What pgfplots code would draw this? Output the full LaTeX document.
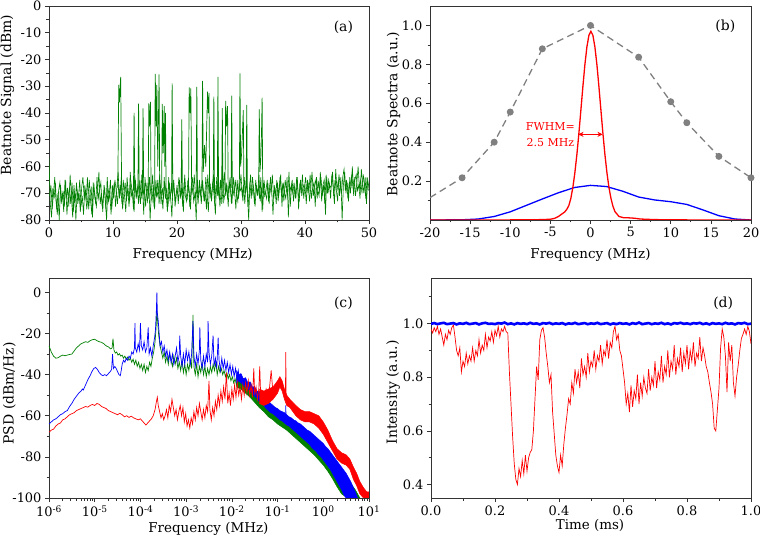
\documentclass[border=0pt]{standalone}
\usepackage{pgfplots}
\pgfplotsset{compat=1.18}
\usepackage{fontspec}
\setmainfont{DejaVu Serif}
\usetikzlibrary{arrows.meta}
\definecolor{trgreen}{RGB}{0,128,0}
\definecolor{trgray}{RGB}{128,128,128}

\pgfplotsset{
  panel/.style={
    scale only axis,
    tick align=outside, tick pos=left,
    axis line style={black!80, line width=0.8bp},
    tick style={black!80, line width=0.7bp},
    major tick length=4bp, minor tick length=2.5bp,
    tick label style={font=\fontsize{13}{15}\selectfont},
    xlabel style={font=\fontsize{13.5}{16}\selectfont},
    ylabel style={font=\fontsize{14}{16}\selectfont},
  },
}

\begin{document}
\begin{tikzpicture}

% ---------- (a) ----------
\begin{axis}[panel,
  at={(49bp,325bp)}, anchor=south west, width=320bp, height=214bp,
  xmin=0, xmax=50, ymin=-80, ymax=0,
  xtick={0,10,20,30,40,50}, xticklabels={0,10,20,30,40,50},
  minor xtick={5,15,25,35,45},
  ytick={-80,-70,...,0}, yticklabels={-80,-70,-60,-50,-40,-30,-20,-10,0},
  minor ytick={-75,-65,...,-5},
  xlabel={Frequency (MHz)}, ylabel={Beatnote Signal (dBm)},
  xlabel style={at={(axis description cs:0.449,-0.164)}, anchor=center},
  ylabel style={at={(axis description cs:-0.13,0.584)}, anchor=center},
]
\addplot[trgreen, line width=0.6bp] coordinates {
(0,-57)(0.2,-74)(0.4,-79)(0.6,-68)(0.8,-72)(1,-66)(1.2,-76)(1.4,-70)(1.6,-80)(1.8,-67)
(2,-73)(2.2,-69)(2.4,-75)(2.6,-65)(2.8,-78)(3,-71)(3.2,-68)(3.4,-74)(3.6,-66)(3.8,-77)
(4,-70)(4.2,-80)(4.4,-69)(4.6,-72)(4.8,-65)(5,-75)(5.2,-71)(5.4,-78)(5.6,-67)(5.8,-73)
(6,-64)(6.2,-76)(6.4,-70)(6.6,-68)(6.8,-79)(7,-66)(7.2,-72)(7.4,-75)(7.6,-69)(7.8,-62)
(8,-74)(8.2,-70)(8.4,-77)(8.6,-67)(8.8,-73)(9,-80)(9.2,-68)(9.4,-71)(9.6,-65)(9.8,-76)
(10,-70)(10.2,-66)(10.4,-75)(10.6,-68)(10.8,-62)(11,-72)(11.2,-67)(11.4,-74)(11.6,-65)(11.8,-71)
(12,-77)(12.2,-64)(12.4,-70)(12.6,-73)(12.8,-66)(13,-69)(13.2,-76)(13.4,-63)(13.6,-71)(13.8,-68)
(14,-74)(14.2,-65)(14.4,-72)(14.6,-67)(14.8,-78)(15,-64)(15.2,-70)(15.4,-73)(15.6,-66)(15.8,-80)
(16,-69)(16.2,-63)(16.4,-75)(16.6,-68)(16.8,-71)(17,-65)(17.2,-74)(17.4,-67)(17.6,-70)(17.8,-76)
(18,-64)(18.2,-72)(18.4,-68)(18.6,-75)(18.8,-66)(19,-71)(19.2,-79)(19.4,-65)(19.6,-70)(19.8,-73)
(20,-67)(20.2,-74)(20.4,-65)(20.6,-71)(20.8,-69)(21,-77)(21.2,-63)(21.4,-70)(21.6,-72)(21.8,-66)
(22,-75)(22.2,-68)(22.4,-64)(22.6,-73)(22.8,-70)(23,-80)(23.2,-66)(23.4,-71)(23.6,-68)(23.8,-74)
(24,-65)(24.2,-72)(24.4,-69)(24.6,-76)(24.8,-63)(25,-70)(25.2,-67)(25.4,-73)(25.6,-66)(25.8,-71)
(26,-78)(26.2,-64)(26.4,-69)(26.6,-72)(26.8,-65)(27,-74)(27.2,-68)(27.4,-62)(27.6,-71)(27.8,-67)
(28,-75)(28.2,-66)(28.4,-70)(28.6,-73)(28.8,-64)(29,-69)(29.2,-76)(29.4,-65)(29.6,-72)(29.8,-68)
(30,-63)(30.2,-71)(30.4,-67)(30.6,-74)(30.8,-65)(31,-70)(31.2,-80)(31.4,-66)(31.6,-72)(31.8,-64)
(32,-69)(32.2,-75)(32.4,-67)(32.6,-71)(32.8,-63)(33,-73)(33.2,-68)(33.4,-76)(33.6,-65)(33.8,-70)
(34,-72)(34.2,-66)(34.4,-74)(34.6,-64)(34.8,-69)(35,-78)(35.2,-67)(35.4,-71)(35.6,-65)(35.8,-73)
(36,-68)(36.2,-63)(36.4,-75)(36.6,-66)(36.8,-70)(37,-72)(37.2,-64)(37.4,-79)(37.6,-67)(37.8,-69)
(38,-65)(38.2,-73)(38.4,-68)(38.6,-71)(38.8,-64)(39,-76)(39.2,-66)(39.4,-70)(39.6,-63)(39.8,-72)
(40,-67)(40.2,-74)(40.4,-65)(40.6,-70)(40.8,-63)(41,-72)(41.2,-68)(41.4,-66)(41.6,-75)(41.8,-64)
(42,-69)(42.2,-71)(42.4,-62)(42.6,-73)(42.8,-67)(43,-65)(43.2,-78)(43.4,-64)(43.6,-70)(43.8,-66)
(44,-72)(44.2,-63)(44.4,-68)(44.6,-74)(44.8,-61)(45,-69)(45.2,-65)(45.4,-71)(45.6,-64)(45.8,-80)
(46,-67)(46.2,-62)(46.4,-70)(46.6,-66)(46.8,-73)(47,-64)(47.2,-68)(47.4,-60)(47.6,-71)(47.8,-65)
(48,-63)(48.2,-69)(48.4,-67)(48.6,-72)(48.8,-61)(49,-66)(49.2,-70)(49.4,-64)(49.6,-74)(49.8,-65)(50,-68)
};
\addplot[trgreen, line width=0.6bp] coordinates {
(0.1,-71)(0.3,-67)(0.5,-76)(0.7,-70)(0.9,-64)(1.1,-73)(1.3,-78)(1.5,-69)(1.7,-66)(1.9,-74)
(2.1,-70)(2.3,-77)(2.5,-65)(2.7,-72)(2.9,-68)(3.1,-75)(3.3,-63)(3.5,-71)(3.7,-79)(3.9,-67)
(4.1,-73)(4.3,-66)(4.5,-74)(4.7,-70)(4.9,-77)(5.1,-68)(5.3,-64)(5.5,-72)(5.7,-69)(5.9,-76)
(6.1,-71)(6.3,-65)(6.5,-73)(6.7,-78)(6.9,-67)(7.1,-70)(7.3,-74)(7.5,-64)(7.7,-72)(7.9,-69)
(8.1,-66)(8.3,-75)(8.5,-71)(8.7,-68)(8.9,-76)(9.1,-64)(9.3,-73)(9.5,-70)(9.7,-78)(9.9,-67)
(10.1,-72)(10.3,-65)(10.5,-69)(10.7,-74)(10.9,-67)(11.1,-71)(11.3,-64)(11.5,-76)(11.7,-70)(11.9,-66)
(12.1,-73)(12.3,-68)(12.5,-75)(12.7,-62)(12.9,-71)(13.1,-69)(13.3,-77)(13.5,-65)(13.7,-72)(13.9,-67)
(14.1,-70)(14.3,-74)(14.5,-63)(14.7,-71)(14.9,-68)(15.1,-75)(15.3,-66)(15.5,-72)(15.7,-64)(15.9,-70)
(16.1,-73)(16.3,-67)(16.5,-76)(16.7,-65)(16.9,-71)(17.1,-69)(17.3,-63)(17.5,-74)(17.7,-68)(17.9,-72)
(18.1,-66)(18.3,-70)(18.5,-77)(18.7,-64)(18.9,-73)(19.1,-68)(19.3,-71)(19.5,-65)(19.7,-75)(19.9,-69)
(20.1,-70)(20.3,-64)(20.5,-72)(20.7,-68)(20.9,-75)(21.1,-66)(21.3,-71)(21.5,-73)(21.7,-65)(21.9,-69)
(22.1,-76)(22.3,-67)(22.5,-70)(22.7,-63)(22.9,-72)(23.1,-68)(23.3,-74)(23.5,-65)(23.7,-71)(23.9,-66)
(24.1,-69)(24.3,-73)(24.5,-64)(24.7,-70)(24.9,-77)(25.1,-66)(25.3,-72)(25.5,-68)(25.7,-63)(25.9,-74)
(26.1,-67)(26.3,-71)(26.5,-65)(26.7,-75)(26.9,-69)(27.1,-62)(27.3,-73)(27.5,-70)(27.7,-66)(27.9,-72)
(28.1,-68)(28.3,-64)(28.5,-74)(28.7,-67)(28.9,-71)(29.1,-65)(29.3,-70)(29.5,-73)(29.7,-66)(29.9,-69)
(30.1,-68)(30.3,-73)(30.5,-64)(30.7,-70)(30.9,-66)(31.1,-75)(31.3,-69)(31.5,-63)(31.7,-71)(31.9,-67)
(32.1,-74)(32.3,-65)(32.5,-70)(32.7,-68)(32.9,-72)(33.1,-64)(33.3,-77)(33.5,-66)(33.7,-71)(33.9,-69)
(34.1,-65)(34.3,-73)(34.5,-67)(34.7,-70)(34.9,-63)(35.1,-72)(35.3,-68)(35.5,-74)(35.7,-66)(35.9,-71)
(36.1,-64)(36.3,-70)(36.5,-67)(36.7,-73)(36.9,-65)(37.1,-69)(37.3,-71)(37.5,-62)(37.7,-75)(37.9,-67)
(38.1,-70)(38.3,-66)(38.5,-72)(38.7,-64)(38.9,-69)(39.1,-73)(39.3,-65)(39.5,-71)(39.7,-67)(39.9,-68)
(40.1,-64)(40.3,-70)(40.5,-66)(40.7,-73)(40.9,-68)(41.1,-62)(41.3,-71)(41.5,-67)(41.7,-65)(41.9,-72)
(42.1,-66)(42.3,-69)(42.5,-64)(42.7,-71)(42.9,-67)(43.1,-74)(43.3,-63)(43.5,-70)(43.7,-65)(43.9,-68)
(44.1,-67)(44.3,-62)(44.5,-71)(44.7,-65)(44.9,-69)(45.1,-73)(45.3,-63)(45.5,-67)(45.7,-70)(45.9,-64)
(46.1,-61)(46.3,-69)(46.5,-65)(46.7,-72)(46.9,-66)(47.1,-70)(47.3,-63)(47.5,-68)(47.7,-64)(47.9,-71)
(48.1,-66)(48.3,-60)(48.5,-68)(48.7,-65)(48.9,-70)(49.1,-63)(49.3,-67)(49.5,-72)(49.7,-64)(49.9,-69)
};
% beatnote spikes
\addplot[trgreen, line width=0.7bp, unbounded coords=jump] coordinates {
(10.75,-68)(10.9,-29.5)(11.0,-36)(11.2,-26.5)(11.35,-69)(11.4,nan)
(13.2,-69)(13.3,-40)(13.4,-70)(13.5,nan)
(13.9,-68)(14.0,-36.5)(14.1,-70)(14.2,nan)
(14.6,-69)(14.7,-38.3)(14.8,-70)(14.9,nan)
(15.5,-68)(15.6,-36.4)(15.7,-45)(15.85,-35.8)(15.95,-70)(16.0,nan)
(16.5,-69)(16.6,-25.4)(16.75,-45)(16.85,-29.5)(17.0,-60)(17.2,-25.6)(17.3,-70)(17.4,nan)
(17.6,-68)(17.7,-36.6)(17.85,-55)(18.0,-37.4)(18.1,-60)(18.2,-40)(18.3,-70)(18.4,nan)
(19.15,-69)(19.24,-28.9)(19.35,-70)(19.4,nan)
(20.65,-68)(20.75,-42.4)(20.85,-70)(20.9,nan)
(21.8,-69)(21.9,-30.4)(22.05,-40)(22.16,-30.8)(22.3,-70)(22.4,nan)
(23.0,-68)(23.1,-30.2)(23.2,-70)(23.3,nan)
(23.9,-69)(24.0,-28)(24.1,-62)(24.3,-52)(24.5,-60)(24.77,-32)(24.88,-40)(25.0,-32.6)(25.1,-70)(25.2,nan)
(25.66,-68)(25.76,-33.9)(25.86,-70)(25.9,nan)
(26.3,-69)(26.4,-26.5)(26.5,-70)(26.6,nan)
(26.98,-68)(27.08,-38.2)(27.18,-70)(27.2,nan)
(27.5,-69)(27.6,-35.5)(27.75,-45)(27.9,-37.4)(28.0,-70)(28.1,nan)
(28.45,-68)(28.55,-33.5)(28.65,-70)(28.7,nan)
(29.74,-69)(29.84,-25.2)(29.94,-60)(30.1,-55)(30.36,-38.9)(30.46,-70)(30.5,nan)
(30.8,-68)(30.9,-37)(31.0,-70)(31.1,nan)
(32.76,-69)(32.86,-38.6)(32.96,-62)(33.1,-57)(33.2,-48)(33.3,-34.3)(33.4,-70)
};
\node[font=\fontsize{14}{16}\selectfont] at (rel axis cs:0.92,0.90) {(a)};
\end{axis}

% ---------- (b) ----------
\begin{axis}[panel,
  at={(430bp,325bp)}, anchor=south west, width=321bp, height=214bp,
  xmin=-20, xmax=20, ymin=0, ymax=1.1,
  xtick={-20,-15,...,20}, xticklabels={-20,-15,-10,-5,0,5,10,15,20},
  minor xtick={-17.5,-12.5,...,17.5},
  ytick={0.2,0.4,0.6,0.8,1.0}, yticklabels={0.2,0.4,0.6,0.8,1.0},
  minor ytick={0.1,0.3,0.5,0.7,0.9},
  xlabel={Frequency (MHz)}, ylabel={Beatnote Spectra (a.u.)},
  xlabel style={at={(axis description cs:0.5,-0.164)}, anchor=center},
  ylabel style={at={(axis description cs:-0.114,0.495)}, anchor=center},
]
\addplot[trgray, line width=1.3bp, dash pattern=on 7bp off 4.5bp,
  mark=*, mark size=2.8bp, mark options={solid, fill=trgray, draw=trgray},
  mark indices={2,3,4,5,6,7,8,9,10,11}] coordinates {
(-20,0.115)(-16,0.217)(-12,0.40)(-10,0.555)(-6,0.88)(0,1.0)(6,0.837)(10,0.608)(12,0.50)(16,0.327)(20,0.217)
};
\addplot[blue, line width=1.3bp] coordinates {
(-20,0)(-16,0.001)(-14,0.005)(-12,0.018)(-10,0.042)(-8,0.075)(-6,0.108)(-4,0.14)(-2,0.167)(0,0.178)
(2,0.172)(4,0.148)(6,0.118)(8,0.103)(10,0.094)(12,0.08)(14,0.052)(16,0.022)(18,0.005)(20,0)
};
\addplot[red, line width=1.3bp] coordinates {
(-20,0)(-12,0)(-8,0.001)(-6,0.002)(-5,0.004)(-4.5,0.008)(-4,0.018)(-3.7,0.027)(-3.45,0.034)(-3.2,0.042)
(-2.95,0.055)(-2.7,0.074)(-2.45,0.111)(-2.2,0.167)(-1.95,0.242)(-1.7,0.335)(-1.45,0.444)(-1.2,0.564)
(-0.95,0.685)(-0.7,0.798)(-0.45,0.889)(-0.2,0.949)(0.05,0.970)(0.3,0.949)(0.55,0.889)(0.8,0.798)
(1.05,0.685)(1.3,0.564)(1.55,0.444)(1.8,0.335)(2.05,0.242)(2.3,0.167)(2.55,0.111)(2.8,0.070)
(3.05,0.043)(3.55,0.018)(4.1,0.012)(4.8,0.011)(5.5,0.009)(6.2,0.005)(8,0.002)(10,0.001)(14,0)(20,0)
};
\draw[red, line width=1.3bp, {Stealth[length=5bp,width=5bp]}-{Stealth[length=5bp,width=5bp]}]
  (axis cs:-1.5,0.44) -- (axis cs:1.5,0.44);
\node[red, align=center, font=\fontsize{11}{16}\selectfont] at (axis cs:-5.0,0.44) {FWHM=\\2.5 MHz};
\node[font=\fontsize{14}{16}\selectfont] at (rel axis cs:0.92,0.906) {(b)};
\end{axis}

% ---------- (c) ----------
\begin{axis}[panel,
  at={(49bp,47bp)}, anchor=south west, width=320bp, height=220bp,
  xmin=-6, xmax=1, ymin=-100, ymax=7,
  xtick={-6,-5,-4,-3,-2,-1,0,1},
  xticklabels={10\textsuperscript{-6},10\textsuperscript{-5},10\textsuperscript{-4},10\textsuperscript{-3},
    10\textsuperscript{-2},10\textsuperscript{-1},10\textsuperscript{0},10\textsuperscript{1}},
  minor xtick={-5.699,-5.523,-5.398,-5.301,-5.222,-5.155,-5.097,-5.046,
    -4.699,-4.523,-4.398,-4.301,-4.222,-4.155,-4.097,-4.046,
    -3.699,-3.523,-3.398,-3.301,-3.222,-3.155,-3.097,-3.046,
    -2.699,-2.523,-2.398,-2.301,-2.222,-2.155,-2.097,-2.046,
    -1.699,-1.523,-1.398,-1.301,-1.222,-1.155,-1.097,-1.046,
    -0.699,-0.523,-0.398,-0.301,-0.222,-0.155,-0.097,-0.046,
    0.301,0.477,0.602,0.699,0.778,0.845,0.903,0.954},
  ytick={-100,-80,...,0}, yticklabels={-100,-80,-60,-40,-20,0},
  minor ytick={-90,-70,-50,-30,-10},
  xlabel={Frequency (MHz)}, ylabel={PSD (dBm/Hz)},
  xlabel style={at={(axis description cs:0.498,-0.14)}, anchor=center},
  ylabel style={at={(axis description cs:-0.124,0.475)}, anchor=center},
]
% green
\addplot[trgreen, fill=trgreen, line width=0.5bp] coordinates {
(-1.90,-41)(-1.80,-42)(-1.70,-44)(-1.60,-46)(-1.50,-48.5)(-1.40,-51)(-1.30,-53.5)(-1.20,-55.5)(-1.10,-57.5)
(-1.00,-59)(-0.90,-60.5)(-0.80,-62)(-0.70,-63.5)(-0.60,-65)(-0.50,-66.5)(-0.40,-68)(-0.30,-69.5)(-0.20,-71.5)
(-0.10,-73.5)(0.00,-75.5)(0.10,-78)(0.20,-81)(0.30,-84)(0.40,-87)(0.50,-90)(0.60,-93)(0.70,-96)(0.80,-100)
(0.55,-100)(0.50,-99.5)(0.40,-98)(0.30,-94.5)(0.20,-90.5)(0.10,-87)(0.00,-84)(-0.10,-81.5)(-0.20,-79)
(-0.30,-77)(-0.40,-75)(-0.50,-73)(-0.60,-71)(-0.70,-69)(-0.80,-67)(-0.90,-65.5)(-1.00,-64)(-1.10,-62)
(-1.20,-60.5)(-1.30,-58)(-1.40,-56)(-1.50,-53.5)(-1.60,-51)(-1.70,-49)(-1.80,-47)(-1.90,-46)
};
\addplot[trgreen, line width=0.7bp] coordinates {
(-6.00,-26)(-5.95,-29)(-5.90,-31)(-5.85,-32)(-5.80,-31.8)(-5.75,-31)(-5.70,-30.5)(-5.65,-30.8)(-5.60,-30.5)
(-5.55,-30.2)(-5.50,-30)(-5.45,-28.5)(-5.40,-27)(-5.35,-26)(-5.30,-25)(-5.25,-24.5)(-5.20,-24)(-5.15,-24.3)
(-5.10,-23.5)(-5.05,-23)(-5.00,-22.8)(-4.95,-23.5)(-4.90,-24)(-4.85,-24.3)(-4.80,-25)(-4.75,-26)(-4.70,-26.5)
(-4.65,-27.5)(-4.62,-27)(-4.60,-22.5)(-4.58,-28)(-4.55,-29.5)(-4.52,-29)(-4.49,-30.5)(-4.46,-29.8)(-4.43,-31)
(-4.40,-30.5)(-4.37,-32)(-4.34,-31)(-4.31,-32.5)(-4.28,-31.5)(-4.25,-33)(-4.22,-32)(-4.19,-34)(-4.16,-32.5)
(-4.13,-35)(-4.10,-33)(-4.07,-36)(-4.04,-34)(-4.01,-37)(-3.98,-35)(-3.95,-38)(-3.92,-35)(-3.89,-39)(-3.86,-36)
(-3.83,-38)(-3.80,-34)(-3.77,-36)(-3.74,-32)(-3.71,-29)(-3.68,-24)(-3.66,-18)(-3.64,-9)(-3.62,-15)(-3.60,-21)
(-3.57,-26)(-3.54,-29)(-3.51,-32)(-3.48,-29)(-3.45,-34)(-3.42,-31)(-3.39,-35)(-3.36,-30)(-3.33,-33)(-3.30,-36)
(-3.27,-31)(-3.24,-35)(-3.21,-32)(-3.18,-37)(-3.15,-34)(-3.12,-38)(-3.09,-33)(-3.06,-39)(-3.03,-35)(-3.00,-40)
(-2.97,-35)(-2.94,-38)(-2.91,-33)(-2.88,-37)(-2.85,-11)(-2.83,-36)(-2.80,-40)(-2.77,-35)(-2.74,-41)(-2.71,-36)
(-2.68,-39)(-2.65,-34)(-2.62,-40)(-2.59,-36)(-2.56,-41)(-2.53,-37)(-2.50,-40)(-2.47,-36)(-2.44,-39)(-2.41,-35)
(-2.38,-38)(-2.35,-34)(-2.32,-40)(-2.29,-36)(-2.26,-39)(-2.23,-37)(-2.20,-40)(-2.17,-38)(-2.14,-41)(-2.11,-39)
(-2.08,-42)(-2.05,-40)(-2.02,-43)(-1.99,-41)(-1.96,-44)(-1.93,-42)(-1.90,-45)(-1.87,-43)(-1.84,-46)
};
% blue
\addplot[blue, fill=blue, line width=0.5bp] coordinates {
(-1.90,-38)(-1.85,-40)(-1.80,-39.5)(-1.75,-42)(-1.70,-41.5)(-1.65,-44)(-1.60,-43.5)(-1.55,-46)(-1.50,-46)
(-1.45,-48)(-1.40,-48)(-1.35,-50.5)(-1.30,-51)(-1.25,-52.5)(-1.20,-53)(-1.15,-54)(-1.10,-55)(-1.05,-56)
(-1.00,-56.5)(-0.95,-57.5)(-0.90,-58)(-0.85,-58.5)(-0.80,-59.5)(-0.75,-60.5)(-0.70,-61)(-0.65,-62)(-0.60,-62.5)
(-0.55,-63.5)(-0.50,-64)(-0.45,-65)(-0.40,-66)(-0.35,-67)(-0.30,-67.5)(-0.25,-68.5)(-0.20,-69.5)(-0.15,-70.5)
(-0.10,-71.5)(-0.05,-72.5)(0.00,-73.5)(0.05,-75)(0.10,-76)(0.15,-77.5)(0.20,-79)(0.25,-80.5)(0.30,-82)
(0.35,-83.5)(0.40,-85)(0.45,-86.5)(0.50,-88)(0.55,-90)(0.60,-92)(0.65,-94.5)(0.70,-97)(0.75,-100)
(0.50,-100)(0.45,-98.5)(0.40,-96)(0.35,-94)(0.30,-92)(0.25,-90)(0.20,-88)(0.15,-86)(0.10,-84.5)(0.05,-83)
(0.00,-81.5)(-0.05,-80)(-0.10,-79)(-0.15,-77.5)(-0.20,-76.5)(-0.25,-75.5)(-0.30,-74)(-0.35,-73)(-0.40,-72)
(-0.45,-71)(-0.50,-70)(-0.55,-69)(-0.60,-68)(-0.65,-67)(-0.70,-66)(-0.75,-65)(-0.80,-64.5)(-0.85,-63.5)
(-0.90,-62.5)(-0.95,-62)(-1.00,-61)(-1.05,-60)(-1.10,-59)(-1.15,-58.5)(-1.20,-57.5)(-1.25,-56.5)(-1.30,-55)
(-1.35,-54)(-1.40,-53)(-1.45,-51.5)(-1.50,-50.5)(-1.55,-49)(-1.60,-48)(-1.65,-47)(-1.70,-46)(-1.75,-45)
(-1.80,-44)(-1.85,-43)(-1.90,-44)
};
\addplot[blue, line width=0.7bp] coordinates {
(-6.00,-64)(-5.95,-63)(-5.90,-62)(-5.85,-61.5)(-5.80,-60.5)(-5.75,-59.5)(-5.70,-59)(-5.65,-58)(-5.60,-57.5)
(-5.55,-55.5)(-5.50,-54)(-5.45,-52)(-5.40,-50.5)(-5.35,-49)(-5.30,-48)(-5.27,-47)(-5.25,-47.5)(-5.22,-46)
(-5.18,-44)(-5.14,-42)(-5.10,-40.5)(-5.06,-38.5)(-5.02,-37)(-4.98,-36.5)(-4.94,-37.5)(-4.90,-39)(-4.86,-40)
(-4.82,-40.5)(-4.78,-40)(-4.74,-40.5)(-4.70,-39.5)(-4.66,-38.5)(-4.63,-37.5)(-4.61,-30)(-4.59,-37)(-4.56,-36)
(-4.53,-37)(-4.50,-38.5)(-4.47,-40)(-4.44,-40.5)(-4.42,-38)(-4.40,-35)(-4.37,-33)(-4.34,-34)(-4.31,-32)
(-4.28,-33)(-4.25,-31)(-4.22,-32)(-4.19,-29)(-4.16,-30)(-4.13,-27)(-4.12,-15)(-4.11,-27)(-4.08,-29)(-4.05,-25)
(-4.02,-28)(-4.00,-15)(-3.98,-26)(-3.95,-28)(-3.92,-24)(-3.89,-29)(-3.86,-27)(-3.83,-17)(-3.81,-30)(-3.78,-27)
(-3.75,-31)(-3.72,-26)(-3.69,-22)(-3.67,-18)(-3.65,-8)(-3.64,0)(-3.63,-10)(-3.61,-14)(-3.59,-20)(-3.57,-26)
(-3.54,-24)(-3.51,-29)(-3.48,-26)(-3.45,-31)(-3.42,-28)(-3.39,-33)(-3.36,-29)(-3.33,-34)(-3.30,-30)(-3.27,-35)
(-3.24,-31)(-3.21,-27)(-3.18,-34)(-3.15,-30)(-3.14,-21)(-3.12,-31)(-3.09,-36)(-3.06,-30)(-3.03,-35)(-3.00,-28)
(-2.97,-33)(-2.94,-29)(-2.91,-35)(-2.88,-30)(-2.85,-14)(-2.83,-31)(-2.80,-36)(-2.77,-30)(-2.74,-35)(-2.71,-28)
(-2.70,-17)(-2.68,-33)(-2.65,-37)(-2.62,-31)(-2.59,-36)(-2.56,-30)(-2.53,-34)(-2.52,-14)(-2.50,-29)(-2.47,-35)
(-2.44,-31)(-2.41,-21)(-2.39,-36)(-2.36,-32)(-2.33,-37)(-2.30,-22)(-2.28,-33)(-2.25,-38)(-2.22,-32)(-2.19,-37)
(-2.16,-33)(-2.13,-38)(-2.10,-34)(-2.07,-39)(-2.04,-35)(-2.01,-40)(-1.98,-36)(-1.95,-41)(-1.92,-37)(-1.89,-42)
(-1.86,-38)(-1.83,-43)
};
\addplot[blue, line width=0.6bp] coordinates {(-0.83,-64)(-0.82,-55)(-0.81,-64)};
% red
\addplot[red, fill=red, line width=0.5bp] coordinates {
(-1.40,-47)(-1.30,-48)(-1.20,-47)(-1.10,-46)(-1.00,-43)(-0.95,-41)(-0.90,-43)(-0.85,-47)(-0.80,-50)(-0.73,-52)
(-0.60,-55)(-0.50,-57)(-0.40,-58)(-0.30,-58)(-0.20,-59)(-0.10,-60)(0.00,-63)(0.10,-67)(0.20,-72)(0.30,-76)
(0.40,-78)(0.50,-79)(0.58,-81)(0.66,-85)(0.73,-88)(0.80,-92)(0.88,-95)(0.95,-97)(1.00,-97)
(1.00,-100)(0.95,-100)(0.88,-100)(0.80,-98)(0.73,-94)(0.66,-91)(0.58,-86)(0.50,-84)(0.40,-83)(0.30,-81)
(0.20,-77)(0.10,-73)(0.00,-69)(-0.10,-66)(-0.20,-64)(-0.30,-63)(-0.40,-63)(-0.50,-62)(-0.60,-60)(-0.73,-56)
(-0.80,-55)(-0.85,-52)(-0.90,-48)(-0.95,-46)(-1.00,-49)(-1.10,-52)(-1.20,-54)(-1.30,-55)(-1.40,-54)
};
\addplot[red, line width=0.7bp] coordinates {
(-6.00,-68)(-5.95,-67)(-5.90,-66.5)(-5.85,-65)(-5.80,-64)(-5.75,-63.5)(-5.70,-62)(-5.65,-61.5)(-5.60,-60.5)
(-5.55,-59.5)(-5.50,-59)(-5.45,-58.5)(-5.40,-57.5)(-5.35,-57)(-5.30,-56.5)(-5.25,-56)(-5.20,-55.5)(-5.15,-55.8)
(-5.10,-55)(-5.05,-54.5)(-5.00,-55)(-4.95,-54)(-4.90,-54.5)(-4.85,-55.5)(-4.80,-56)(-4.75,-56.5)(-4.70,-57.5)
(-4.65,-58)(-4.60,-58.5)(-4.55,-59)(-4.50,-59.5)(-4.45,-58.8)(-4.40,-59.5)(-4.35,-60.5)(-4.30,-60)(-4.25,-60.8)
(-4.20,-60.2)(-4.15,-61)(-4.10,-61.5)(-4.05,-62)(-4.00,-61.5)(-3.96,-62.5)(-3.92,-63.5)(-3.88,-64.5)(-3.84,-63.5)
(-3.80,-62.5)(-3.76,-61.5)(-3.72,-60)(-3.68,-57)(-3.65,-53)(-3.63,-51)(-3.61,-55)(-3.58,-58)(-3.55,-61)(-3.52,-59)
(-3.49,-62)(-3.46,-60)(-3.43,-57)(-3.40,-61)(-3.37,-55)(-3.34,-58)(-3.31,-52)(-3.28,-56)(-3.25,-60)(-3.22,-57)
(-3.19,-62)(-3.16,-58)(-3.13,-55)(-3.10,-60)(-3.07,-56)(-3.04,-63)(-3.01,-59)(-2.98,-65)(-2.95,-62)(-2.92,-66)
(-2.89,-61)(-2.86,-64)(-2.83,-58)(-2.80,-62)(-2.77,-56)(-2.74,-60)(-2.71,-54)(-2.68,-58)(-2.65,-62)(-2.62,-57)
(-2.59,-61)(-2.56,-55)(-2.53,-58)(-2.50,-43)(-2.48,-57)(-2.45,-62)(-2.42,-56)(-2.39,-60)(-2.36,-53)(-2.33,-57)
(-2.30,-50)(-2.27,-55)(-2.24,-48)(-2.21,-53)(-2.18,-46)(-2.15,-52)(-2.12,-39)(-2.09,-54)(-2.06,-49)(-2.03,-55)
(-2.00,-47)(-1.97,-52)(-1.94,-45)(-1.91,-51)(-1.88,-44)(-1.85,-50)(-1.82,-46)(-1.79,-52)(-1.76,-45)(-1.73,-50)
(-1.70,-44)(-1.67,-49)(-1.64,-43)(-1.61,-50)(-1.58,-45)(-1.55,-51)(-1.52,-37)(-1.50,-50)(-1.47,-46)(-1.44,-52)
(-1.41,-47)(-1.39,-36)(-1.37,-50)(-1.30,-51)(-1.25,-47)(-1.20,-52)(-1.14,-38)(-1.10,-49)
};
\addplot[red, line width=0.6bp] coordinates {(-0.83,-52)(-0.82,-29)(-0.81,-52)};
\node[font=\fontsize{14}{16}\selectfont] at (rel axis cs:0.92,0.883) {(c)};
\end{axis}

% ---------- (d) ----------
\begin{axis}[panel,
  at={(431bp,47bp)}, anchor=south west, width=320bp, height=220bp,
  xmin=0, xmax=1, ymin=0.35, ymax=1.17,
  xtick={0,0.2,0.4,0.6,0.8,1}, xticklabels={0.0,0.2,0.4,0.6,0.8,1.0},
  minor xtick={0.1,0.3,0.5,0.7,0.9},
  ytick={0.4,0.6,0.8,1.0}, yticklabels={0.4,0.6,0.8,1.0},
  minor ytick={0.5,0.7,0.9,1.1},
  xlabel={Time (ms)}, ylabel={Intensity (a.u.)},
  xlabel style={at={(axis description cs:0.497,-0.124)}, anchor=center},
  ylabel style={at={(axis description cs:-0.118,0.48)}, anchor=center},
]
\addplot[red, line width=0.7bp] coordinates {
(0.000,0.98)(0.005,0.965)(0.010,0.985)(0.015,0.97)(0.020,0.99)(0.025,0.96)(0.030,0.98)(0.035,0.95)(0.040,0.92)
(0.045,0.96)(0.050,0.94)(0.055,0.975)(0.060,0.96)(0.065,0.985)(0.070,0.995)(0.075,0.95)(0.080,0.90)(0.085,0.88)
(0.090,0.91)(0.095,0.82)(0.100,0.86)(0.105,0.84)(0.110,0.89)(0.115,0.85)(0.120,0.88)(0.125,0.86)
(0.130,0.91)(0.135,0.86)(0.140,0.90)(0.145,0.88)(0.150,0.94)(0.155,0.89)(0.160,0.92)(0.165,0.90)(0.170,0.96)
(0.175,0.91)(0.180,0.95)(0.185,0.935)(0.190,0.97)(0.195,0.93)(0.200,0.975)(0.205,0.955)(0.210,0.99)(0.215,0.95)
(0.220,0.98)(0.225,0.97)(0.230,0.99)(0.235,0.97)(0.240,0.965)
(0.245,0.82)(0.250,0.70)(0.255,0.58)(0.260,0.48)(0.265,0.42)
(0.270,0.40)(0.275,0.46)(0.280,0.43)(0.285,0.49)(0.290,0.44)(0.295,0.51)(0.300,0.45)(0.305,0.50)(0.310,0.52)
(0.315,0.53)(0.320,0.60)(0.325,0.72)(0.330,0.84)(0.335,0.79)(0.340,0.94)(0.345,0.975)(0.350,0.985)(0.355,0.95)
(0.360,0.89)(0.365,0.84)(0.370,0.78)(0.375,0.81)(0.380,0.67)(0.385,0.59)(0.390,0.51)(0.395,0.47)(0.400,0.445)
(0.405,0.51)(0.410,0.47)(0.415,0.55)(0.420,0.61)(0.425,0.66)(0.430,0.72)(0.435,0.70)(0.440,0.78)
(0.445,0.74)(0.450,0.83)(0.455,0.78)(0.460,0.82)(0.465,0.76)(0.470,0.87)(0.475,0.81)(0.480,0.84)(0.485,0.80)
(0.490,0.89)(0.495,0.82)(0.500,0.86)(0.505,0.84)(0.510,0.90)(0.515,0.83)(0.520,0.88)(0.525,0.86)(0.530,0.92)
(0.535,0.85)(0.540,0.90)(0.545,0.88)(0.550,0.94)(0.555,0.87)(0.560,0.93)(0.565,0.91)(0.570,0.97)
(0.575,0.99)(0.580,0.94)(0.585,0.96)(0.590,0.90)(0.595,0.88)(0.600,0.83)(0.605,0.78)(0.610,0.70)(0.615,0.74)
(0.620,0.67)(0.625,0.77)(0.630,0.69)(0.635,0.75)(0.640,0.72)(0.645,0.81)(0.650,0.70)(0.655,0.78)(0.660,0.73)
(0.665,0.80)(0.670,0.76)(0.675,0.74)(0.680,0.83)(0.685,0.75)(0.690,0.80)(0.695,0.77)(0.700,0.86)(0.705,0.76)
(0.710,0.82)(0.715,0.79)(0.720,0.88)(0.725,0.78)(0.730,0.84)(0.735,0.81)(0.740,0.90)(0.745,0.80)(0.750,0.86)
(0.755,0.83)(0.760,0.92)(0.765,0.81)(0.770,0.87)(0.775,0.84)(0.780,0.91)(0.785,0.82)(0.790,0.89)(0.795,0.85)
(0.800,0.92)(0.805,0.83)(0.810,0.90)(0.815,0.86)(0.820,0.93)(0.825,0.84)(0.830,0.89)(0.835,0.87)(0.840,0.95)
(0.845,0.86)(0.850,0.91)(0.855,0.88)
(0.860,0.84)(0.865,0.82)(0.870,0.78)(0.875,0.745)(0.880,0.70)(0.885,0.61)(0.890,0.60)(0.895,0.68)
(0.900,0.76)(0.905,0.91)(0.910,0.98)(0.915,0.95)(0.920,0.88)(0.925,0.745)(0.930,0.93)(0.935,0.86)(0.940,0.92)
(0.945,0.78)(0.950,0.73)(0.955,0.80)(0.960,0.845)(0.965,0.90)(0.970,0.945)(0.975,0.96)(0.980,0.98)(0.985,0.96)
(0.990,0.99)(0.995,0.97)(1.000,0.925)
};
\addplot[blue, line width=2.6bp] coordinates {
(0.00,0.999)(0.01,1.002)(0.02,0.998)(0.03,1.001)(0.04,1.003)(0.05,0.998)(0.06,1.000)(0.07,1.002)(0.08,0.997)(0.09,1.001)
(0.10,0.999)(0.11,1.003)(0.12,0.998)(0.13,1.000)(0.14,1.002)(0.15,0.997)(0.16,1.001)(0.17,1.003)(0.18,0.999)(0.19,1.000)
(0.20,0.998)(0.21,1.002)(0.22,1.000)(0.23,1.004)(0.24,0.998)(0.25,1.001)(0.26,0.997)(0.27,1.002)(0.28,0.999)(0.29,1.001)
(0.30,0.998)(0.31,1.003)(0.32,0.999)(0.33,1.001)(0.34,0.997)(0.35,1.002)(0.36,1.000)(0.37,1.003)(0.38,0.998)(0.39,1.001)
(0.40,0.999)(0.41,1.002)(0.42,0.997)(0.43,1.001)(0.44,0.999)(0.45,1.003)(0.46,0.998)(0.47,1.000)(0.48,1.002)(0.49,0.998)
(0.50,1.001)(0.51,0.999)(0.52,1.003)(0.53,0.998)(0.54,1.000)(0.55,1.002)(0.56,0.997)(0.57,1.001)(0.58,0.998)(0.59,1.002)
(0.60,0.999)(0.61,1.001)(0.62,0.997)(0.63,1.002)(0.64,0.999)(0.65,1.004)(0.66,0.998)(0.67,1.000)(0.68,1.002)(0.69,0.998)
(0.70,1.001)(0.71,0.999)(0.72,1.003)(0.73,0.998)(0.74,1.001)(0.75,0.997)(0.76,1.002)(0.77,1.000)(0.78,1.003)(0.79,0.999)
(0.80,1.001)(0.81,0.998)(0.82,1.002)(0.83,1.000)(0.84,1.003)(0.85,0.998)(0.86,1.001)(0.87,0.997)(0.88,1.002)(0.89,0.999)
(0.90,1.001)(0.91,0.998)(0.92,1.003)(0.93,0.999)(0.94,1.001)(0.95,0.997)(0.96,1.002)(0.97,1.000)(0.98,1.003)(0.99,0.998)(1.00,1.000)
};
\node[font=\fontsize{14}{16}\selectfont] at (rel axis cs:0.913,0.883) {(d)};
\end{axis}

\pgfresetboundingbox
\path[use as bounding box] (0,0) rectangle (760bp,545bp);
\end{tikzpicture}
\end{document}
